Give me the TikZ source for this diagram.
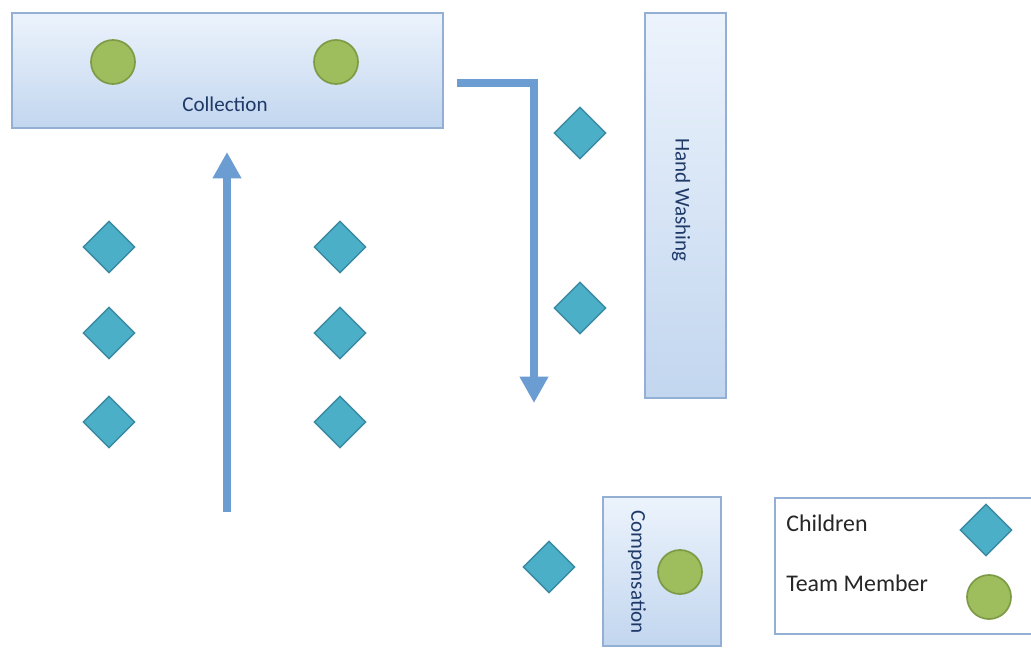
\documentclass[tikz,border=0pt]{standalone}
\usepackage{fontspec}
\setmainfont{Carlito}
\usepackage{xcolor}
\usetikzlibrary{arrows.meta,shapes.geometric,fit}
\definecolor{boxtop}{HTML}{ECF3FC}
\definecolor{boxbot}{HTML}{C2D6EF}
\definecolor{boxline}{HTML}{93AFD3}
\definecolor{flowblue}{HTML}{6C9DD2}
\definecolor{kidfill}{HTML}{4BAFC8}
\definecolor{kidline}{HTML}{3A8AA2}
\definecolor{teamfill}{HTML}{9EBD5C}
\definecolor{teamline}{HTML}{7D9B46}
\definecolor{labelblue}{HTML}{1F3A68}
\definecolor{legendtext}{HTML}{262626}
\tikzset{
	stagebox/.style={
			draw=boxline, line width=1pt, top color=boxtop, bottom color=boxbot,
			inner sep=0pt, rectangle
		},
	stagelabel/.style={text=labelblue, font=\fontsize{15}{18}\selectfont, inner sep=0pt},
	kidmark/.style={
			diamond, draw=kidline, fill=kidfill, line width=1pt,
			minimum width=1.3cm, minimum height=1.3cm, inner sep=0pt
		},
	teammark/.style={
			circle, draw=teamline, fill=teamfill, line width=1.2pt,
			minimum size=1.1cm, inner sep=0pt
		},
	flow/.style={
			draw=flowblue, line width=0.22cm, line join=miter,
			-{Triangle[width=0.68cm,length=0.66cm]}
		}
}

\begin{document}
\begin{tikzpicture}[x=0.025cm, y=-0.025cm]
\useasboundingbox (0,0) rectangle (1031,648);
\clip (0,0) rectangle (1031,648);
% Stations
\node[stagebox, fit={(12,13) (443,128)}] (collection) {};
\node[stagebox, fit={(645,13) (726,398)}] (washing) {};
\node[stagebox, fit={(603,497) (721,646)}] (compensation) {};
\node[stagelabel] (collectionlabel) at (225,104) {Collection};
\node[stagelabel, rotate=-90] (washinglabel) at (681,200) {Hand Washing};
\node[stagelabel, rotate=-90] (compensationlabel) at (637,572) {Compensation};
% Team members
\node[teammark] (team1) at (113,62) {};
\node[teammark] (team2) at (336,62) {};
\node[teammark] (team3) at (680,572) {};
% Children
\foreach \x/\y/\n in {109/247/1, 109/333/2, 109/422/3, 340/247/4, 340/333/5, 340/422/6, 580/133/7, 580/308/8, 549/567/9} {
\node[kidmark] (kid\n) at (\x,\y) {};
}
% Flow
\coordinate (queuestart) at (227,512);
\coordinate (queueend) at (227,152);
\coordinate (washstart) at (457,83);
\coordinate (washcorner) at (534,83);
\coordinate (washend) at (534,403);
\draw[flow] (queuestart) -- (queueend);
\draw[flow] (washstart) -- (washcorner) -- (washend);
% Legend
\node[draw=boxline, line width=1pt, fill=white, inner sep=0pt, fit={(775,498) (1045,634)}] (legend) {};
\node[anchor=west, inner sep=0pt, text=legendtext, font=\fontsize{17}{20}\selectfont] (childrenlabel) at (786,523) {Children};
\node[anchor=west, inner sep=0pt, text=legendtext, font=\fontsize{17}{20}\selectfont] (teamlabel) at (786,583) {Team Member};
\node[kidmark] (legendkid) at (986,530) {};
\node[teammark] (legendteam) at (989,597) {};
\end{tikzpicture}
\end{document}
